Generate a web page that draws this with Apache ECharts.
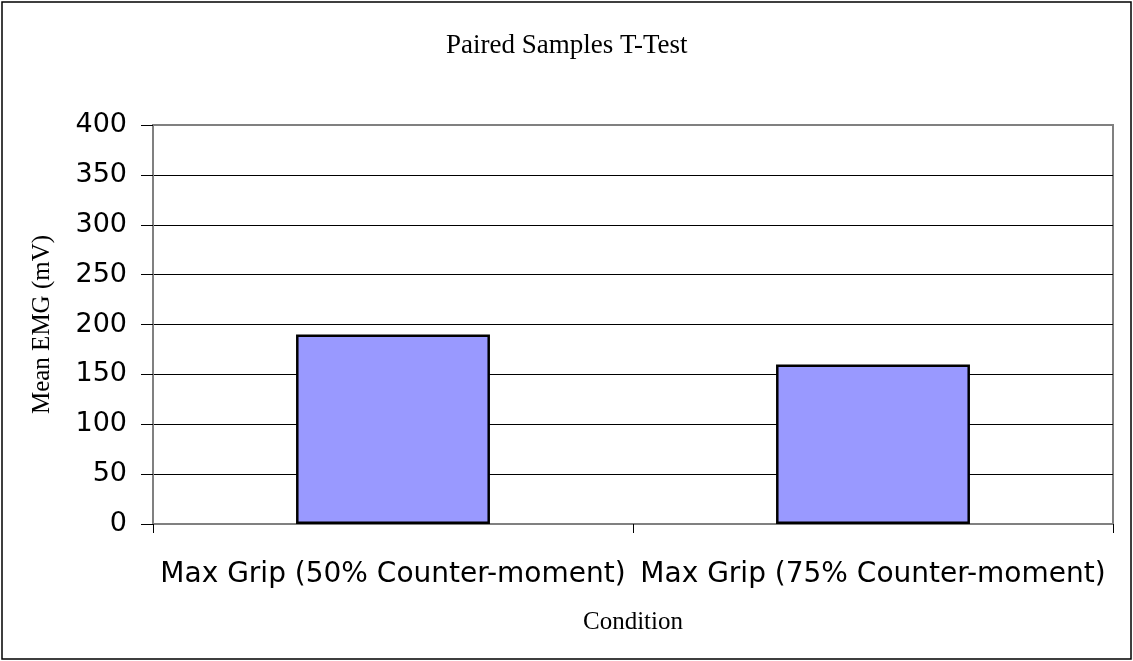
<!DOCTYPE html>
<html>
<head>
<meta charset="utf-8">
<script src="https://cdn.jsdelivr.net/npm/echarts@6/dist/echarts.min.js"></script>
<style>
html,body{margin:0;padding:0;background:#fff;}
#chart{width:1133px;height:661px;}
</style>
</head>
<body>
<div id="chart"></div>
<script>
const categories = ['Max Grip (50% Counter-moment)', 'Max Grip (75% Counter-moment)'];
const meanEMG = [190, 160];
const yTicks = [0, 50, 100, 150, 200, 250, 300, 350, 400];

const chart = echarts.init(document.getElementById('chart'), null, {renderer: 'canvas'});
chart.setOption({
  backgroundColor: '#ffffff',
  animation: false,
  title: {
    text: 'Paired Samples T-Test',
    left: 441,
    top: 27,
    textStyle: {fontFamily: 'Liberation Serif', fontSize: 27, fontWeight: 'normal', color: '#000'}
  },
  graphic: [{
    type: 'rect',
    shape: {x: 2, y: 2, width: 1129, height: 657},
    style: {fill: 'none', stroke: '#000', lineWidth: 1.5},
    silent: true
  }],
  grid: {
    left: 153, right: 20, top: 125, bottom: 137,
    show: true, borderColor: '#808080', borderWidth: 2, backgroundColor: 'transparent'
  },
  xAxis: {
    type: 'category',
    data: categories,
    boundaryGap: true,
    name: 'Condition',
    nameLocation: 'middle',
    nameGap: 86,
    nameTextStyle: {fontFamily: 'Liberation Serif', fontSize: 25, color: '#000'},
    axisLine: {show: true, lineStyle: {color: '#808080', width: 2}},
    axisTick: {show: true, length: 9, alignWithLabel: false, lineStyle: {color: '#000', width: 1}},
    axisLabel: {fontFamily: 'DejaVu Sans', fontSize: 28, color: '#000', margin: 37, interval: 0},
    splitLine: {show: false}
  },
  yAxis: {
    type: 'value',
    min: yTicks[0],
    max: yTicks[yTicks.length - 1],
    interval: yTicks[1] - yTicks[0],
    name: 'Mean EMG (mV)',
    nameLocation: 'middle',
    nameGap: 98,
    nameRotate: 90,
    nameTextStyle: {fontFamily: 'Liberation Serif', fontSize: 25, color: '#000'},
    axisLine: {show: true, lineStyle: {color: '#808080', width: 2}},
    axisTick: {show: true, length: 12, lineStyle: {color: '#000', width: 1}},
    axisLabel: {fontFamily: 'DejaVu Sans', fontSize: 27, color: '#000', margin: 26},
    splitLine: {show: true, showMinLine: false, showMaxLine: false, lineStyle: {color: '#000', width: 1}}
  },
  series: [{
    type: 'bar',
    data: meanEMG,
    barWidth: '40.4%',
    itemStyle: {color: '#9999FF', borderColor: '#000', borderWidth: 2.5}
  }]
});
</script>
</body>
</html>
